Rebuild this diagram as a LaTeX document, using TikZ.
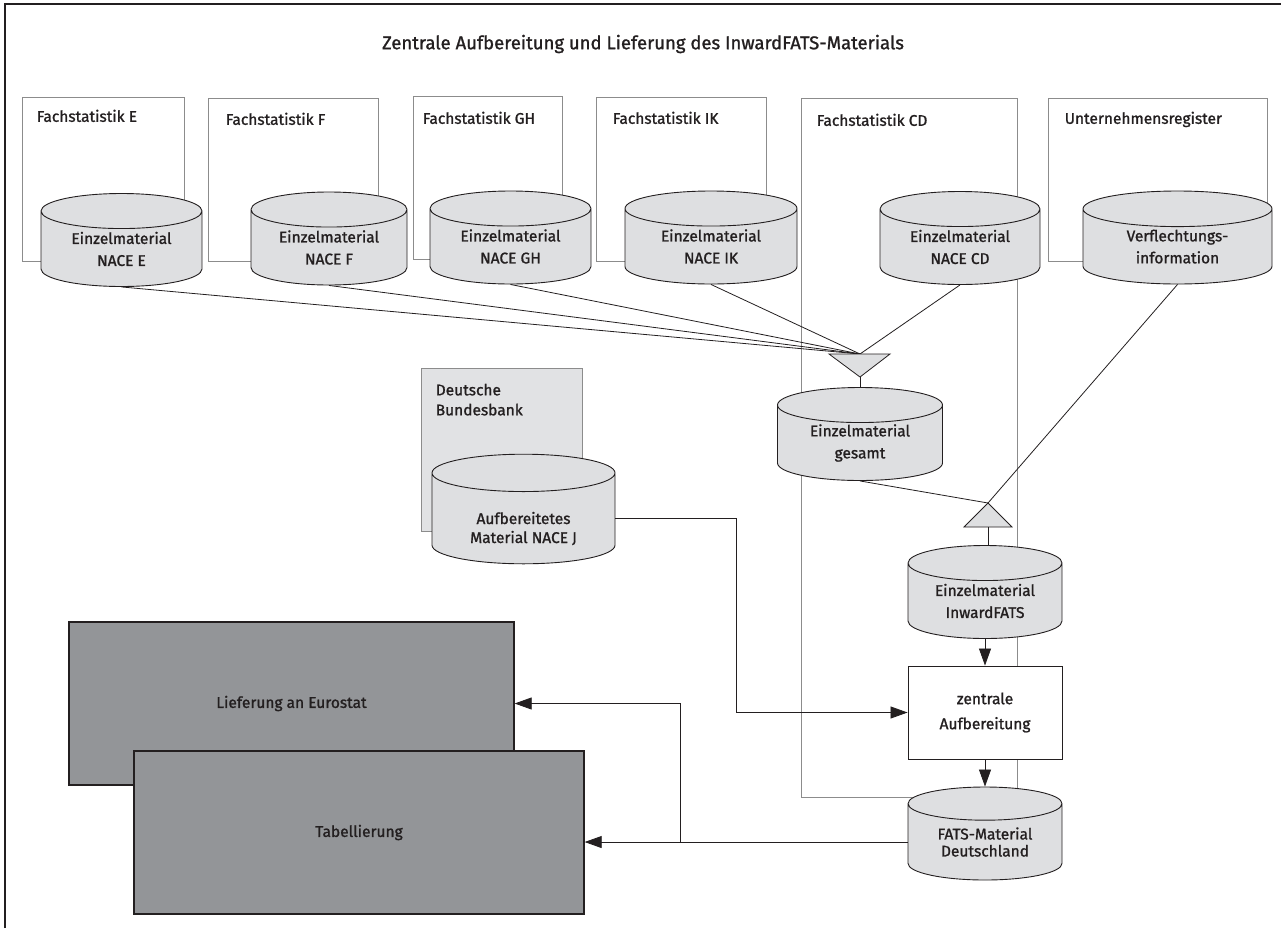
\documentclass[tikz,border=0pt]{standalone}
\usepackage{fontspec}
\setmainfont{Fira Sans}[FakeBold=1.2]
\usetikzlibrary{arrows.meta,calc,positioning,shapes.geometric}
\definecolor{Ink}{HTML}{231F20}
\definecolor{Frame}{HTML}{8C8C8C}
\definecolor{DbGrey}{HTML}{DEDFE1}
\definecolor{BankGrey}{HTML}{E1E2E4}
\definecolor{TaskGrey}{HTML}{939598}

\begin{document}
\begin{tikzpicture}[x=1pt,y=-1pt,text=Ink,font=\fontsize{15.5}{18}\selectfont,
    unit/.style={draw=Frame,fill=white,line width=.9pt,inner sep=0pt},
    unitlbl/.style={anchor=north west,inner sep=0pt,align=left,font=\fontsize{15.5}{20}\selectfont},
    db/.style={cylinder,shape border rotate=90,aspect=.35,draw=Ink,fill=DbGrey,line width=.9pt,anchor=shape center,
      minimum height=93pt,inner sep=0pt,align=center,font=\fontsize{15.5}{22}\selectfont},
    task/.style={draw=Ink,fill=TaskGrey,line width=1.3pt,minimum height=163pt},
    wire/.style={draw=Ink,line width=.8pt},
    flow/.style={wire,-{Triangle[length=17pt,width=12pt]}},
    tri/.style={draw=Ink,fill=DbGrey,line width=.8pt,line join=miter}]
  \useasboundingbox(0,0)rectangle(1287,932);
  \draw[Ink,line width=2pt](5,928)--(5,4)--(1281,4);
  \node[font=\fontsize{18.5}{22}\selectfont](title)at(643,44){Zentrale Aufbereitung und Lieferung des InwardFATS-Materials};

  % Fachstatistiken und Register
  \node[unit,minimum width=162pt,minimum height=164pt](fE)at(103,179){};
  \node[unit,minimum width=170pt,minimum height=163pt](fF)at(293,179.5){};
  \node[unit,minimum width=149pt,minimum height=163pt](fGH)at(487.5,177.5){};
  \node[unit,minimum width=170pt,minimum height=164pt](fIK)at(681,179){};
  \node[unit,minimum width=216pt,minimum height=699pt](fCD)at(909,447.5){};
  \node[unit,minimum width=219pt,minimum height=163pt](fUR)at(1157.5,179.5){};
  \node[unit,fill=BankGrey,minimum width=161pt,minimum height=163pt](fBank)at(501.5,449.5){};
  \node[unitlbl,below right=13pt and 15pt of fE.north west](lE){Fachstatistik E};
  \node[unitlbl,below right=15pt and 18pt of fF.north west](lF){Fachstatistik F};
  \node[unitlbl,below right=16pt and 10pt of fGH.north west](lGH){Fachstatistik GH};
  \node[unitlbl,below right=15pt and 17pt of fIK.north west](lIK){Fachstatistik IK};
  \node[unitlbl,below right=16pt and 16pt of fCD.north west](lCD){Fachstatistik CD};
  \node[unitlbl,below right=14pt and 17pt of fUR.north west](lUR){Unternehmensregister};
  \node[unitlbl,below right=16pt and 15pt of fBank.north west](lBank){Deutsche\\Bundesbank};

  % Datenbestaende
  \node[db,minimum width=161pt](cE)at(121.5,240){Einzelmaterial\\NACE E};
  \node[db,minimum width=156pt](cF)at(329,238.5){Einzelmaterial\\NACE F};
  \node[db,minimum width=161pt](cGH)at(510.5,237.5){Einzelmaterial\\NACE GH};
  \node[db,minimum width=172pt](cIK)at(711,237.5){Einzelmaterial\\NACE IK};
  \node[db,minimum width=160pt](cCD)at(960,238){Einzelmaterial\\NACE CD};
  \node[db,minimum width=189pt](cVer)at(1177.5,237.5){Verflechtungs-\\information};
  \node[db,minimum width=165pt](cGes)at(860,434){Einzelmaterial\\gesamt};
  \node[db,minimum width=183pt,font=\fontsize{15.5}{19}\selectfont](cAuf)at(523.5,509){\rule{0pt}{32pt}Aufbereitetes\\Material NACE J};
  \node[db,minimum width=154pt](cInw)at(985,592){Einzelmaterial\\InwardFATS};
  \node[db,minimum width=154pt,font=\fontsize{15.5}{17}\selectfont](cFATS)at(985,833.5){FATS-Material\\Deutschland};

  \node[draw=Ink,fill=white,line width=.9pt,minimum width=154pt,minimum height=93pt,align=center,
    font=\fontsize{15.5}{25}\selectfont](zen)at(985,712.5){zentrale\\Aufbereitung};
  \node[task,minimum width=445pt](lief)at(291.5,703.5){Lieferung an Eurostat};
  \node[task,minimum width=450pt](tab)at(359,832.5){Tabellierung};

  % Zusammenfuehrung
  \coordinate(mIn)at(860,354);
  \coordinate(mOut)at(860,377);
  \coordinate(jIn)at(988,503);
  \coordinate(jOut)at(988,527);
  \foreach \c in {cE,cF,cGH,cIK,cCD}
    \draw[wire](\c.south)--(mIn);
  \draw[wire](cGes.south)--(jIn);
  \draw[wire](cVer.south)--(jIn);
  \filldraw[tri](829,354)--(890,354)--(mOut)--cycle;
  \filldraw[tri](jIn)--(1012,527)--(964,527)--cycle;
  \draw[wire](mOut)--(cGes.north);
  \draw[wire](jOut)--(jOut|-cInw.north);

  \draw[flow](cInw.south)--(zen.north);
  \draw[flow](zen.south)--(cFATS.north);
  \draw[flow](cAuf.east)--++(121,0)|-(zen.west);
  \draw[flow](cFATS.west)--++(-227,0)|-(lief.east);
  \draw[flow](cFATS.west)--(cFATS.west-|tab.east);
\end{tikzpicture}
\end{document}
